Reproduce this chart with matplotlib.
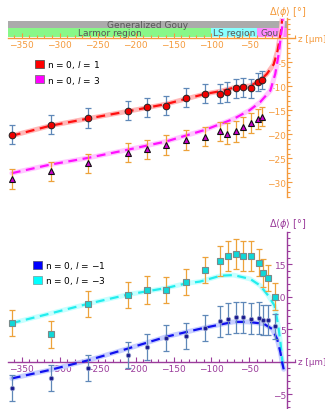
import matplotlib.pyplot as plt
import numpy as np
from matplotlib.patches import Patch
from matplotlib.ticker import FixedLocator, MultipleLocator

# measured points (z in um, phase shift in deg)
z_pts = [-363, -312, -262, -210, -185, -160, -134, -109, -89, -79, -68, -58, -48, -39, -33]
y_l1 = [-20.1, -18.0, -16.6, -15.1, -14.4, -14.0, -12.4, -11.5, -11.5, -11.2, -10.4, -10.2, -10.4, -9.1, -8.7]
e_l1 = [2.0, 2.0, 2.0, 2.0, 2.0, 2.0, 2.0, 1.9, 1.9, 2.0, 2.0, 2.0, 2.0, 1.8, 1.8]
y_l3 = [-29.3, -27.7, -26.0, -23.8, -23.1, -22.2, -21.2, -20.5, -19.4, -19.9, -19.4, -18.4, -17.7, -16.8, -16.3]
e_l3 = [2.1, 2.0, 2.0, 2.0, 2.0, 2.1, 2.0, 2.0, 2.0, 2.2, 2.2, 2.1, 2.1, 2.0, 2.0]

z_pts2 = [-363, -312, -262, -210, -185, -160, -134, -109, -89, -78, -68, -58, -48, -38, -32, -26, -17]
y_lm3 = [5.9, 4.2, 8.9, 10.3, 11.0, 11.0, 12.2, 14.1, 15.5, 16.3, 16.5, 16.2, 16.2, 15.2, 13.6, 12.8, 10.0]
e_lm3 = [2.0, 2.1, 2.0, 2.0, 2.1, 2.0, 2.0, 2.0, 2.3, 2.3, 2.3, 2.3, 2.3, 2.1, 2.1, 2.0, 2.1]
y_lm1 = [-4.0, -2.5, -1.0, 1.0, 2.3, 3.6, 4.0, 5.1, 6.2, 6.6, 6.8, 6.8, 6.6, 6.7, 6.4, 6.4, 5.4]
e_lm1 = [2.0, 2.0, 2.0, 2.0, 2.0, 2.0, 2.0, 2.0, 2.4, 2.4, 2.4, 2.4, 2.4, 2.4, 2.3, 2.3, 1.9]

# fitted curves
zf_l1 = [-363, -312, -262, -210, -160, -109, -88, -71, -49, -36, -27, -18, -13, -9.2, -7.9, -7]
yf_l1 = [-20.3, -18.2, -16.7, -15.2, -13.7, -11.6, -11.0, -10.3, -9.9, -8.8, -7.4, -5.4, -2.6, 0.9, 2.3, 4.0]
zf_l3 = [-363, -312, -262, -210, -160, -109, -71, -50, -36, -22.5, -16, -11.5, -8.3, -7, -6.3]
yf_l3 = [-28.1, -26.3, -24.9, -23.2, -21.5, -19.1, -16.8, -15.0, -13.3, -10.9, -7.4, -3.3, 0.9, 2.3, 4.0]
zf_lm3 = [-363, -312, -262, -210, -160, -134, -115, -88, -71, -49, -36, -25, -17, -13.6, -11.5, -9.2, -7, -5.7]
yf_lm3 = [5.9, 7.4, 8.9, 10.3, 11.3, 12.0, 12.3, 13.2, 13.3, 12.7, 11.7, 10.1, 8.6, 6.5, 5.0, 3.0, 0.4, -1.0]
zf_lm1 = [-363, -313, -262, -210, -160, -109, -71, -52, -31, -20, -13.6, -9.2, -7, -4.9]
yf_lm1 = [-2.6, -1.3, 0.2, 2.0, 3.8, 5.2, 6.1, 6.1, 5.8, 5.0, 3.5, 1.4, -0.1, -1.2]

regions = ['Larmor region', 'LS region', 'Gouy']
region_edges = [-100, -40, 0]

XMIN, XMAX = -368, 10
orange = '#F59A3C'
purple = '#9B3C9B'
bar_blue = '#5F88B8'
bar_orange = '#EDA23A'

fig = plt.figure(figsize=(3.25, 4.10), dpi=100)
W, H = 325, 410
ax1 = fig.add_axes([8 / W, (H - 197.7) / H, 287 / W, 178.5 / H])
ax2 = fig.add_axes([8 / W, 0, 287 / W, 177.5 / H])


def style_axes(ax, col, ylim, ymajor):
    ax.set_xlim(XMIN, XMAX)
    ax.set_ylim(*ylim)
    for s in ['top', 'right']:
        ax.spines[s].set_visible(False)
    ax.spines['left'].set_position(('data', 0))
    ax.spines['bottom'].set_position(('data', 0))
    for s in ['left', 'bottom']:
        ax.spines[s].set_color(col)
        ax.spines[s].set_linewidth(1.0)
    ax.xaxis.set_major_locator(FixedLocator([-350, -300, -250, -200, -150, -100, -50]))
    ax.xaxis.set_minor_locator(MultipleLocator(10))
    ax.yaxis.set_major_locator(FixedLocator(ymajor))
    ax.yaxis.set_minor_locator(MultipleLocator(1))
    ax.tick_params(which='both', direction='in', colors=col, labelsize=6.5, width=0.8)
    ax.tick_params(which='major', length=3.5)
    ax.tick_params(which='minor', length=2)
    ax.tick_params(axis='y', pad=1)
    ax.tick_params(axis='x', pad=1.5)
    ax.patch.set_visible(False)
    ax.text(1.01, 0, 'z [μm]', transform=ax.get_yaxis_transform(),
            color=col, fontsize=6.3, ha='left', va='center')


def fit_line(ax, zf, yf, col, halo):
    ax.plot(zf, yf, color=halo, lw=3.5, solid_capstyle='round', zorder=2)
    ax.plot(zf, yf, color=col, lw=1.6, dashes=(4, 2.5), zorder=3)


style_axes(ax1, orange, (-33, 4.2), [-30, -25, -20, -15, -10, -5])
style_axes(ax2, purple, (-7.3, 20), [-5, 5, 10, 15])

ax1.text(0, 1.04, r'$\Delta\langle\phi\rangle$ [°]', transform=ax1.get_xaxis_transform(),
         color=orange, fontsize=7, ha='center', va='center')
ax2.text(0, 1.048, r'$\Delta\langle\phi\rangle$ [°]', transform=ax2.get_xaxis_transform(),
         color=purple, fontsize=7, ha='center', va='center')

# region bands
ax1.fill_between([XMIN, 0], 2.1, 3.6, color='#ABABAB', lw=0, zorder=1)
ax1.text((XMIN + 0) / 2, 2.85, 'Generalized Gouy', color='#555555', fontsize=6.5,
         ha='center', va='center', zorder=1.5)
band_cols = ['#88F888', '#88FFFF', '#FF88FF']
lefts = [XMIN] + region_edges[:-1]
for name, x0, x1, c in zip(regions, lefts, region_edges, band_cols):
    ax1.fill_between([x0, x1], 0.35, 2.1, color=c, lw=0, zorder=1)
    ax1.text((x0 + x1) / 2, 1.2, name, color='#555555', fontsize=6.5,
             ha='center', va='center', zorder=1.5)

# top panel
fit_line(ax1, zf_l1, yf_l1, '#FF1010', '#FFB8B8')
fit_line(ax1, zf_l3, yf_l3, '#FF10FF', '#FFC8FF')
ax1.errorbar(z_pts, y_l1, yerr=e_l1, fmt='none', ecolor=bar_blue, elinewidth=0.9,
             capsize=2.4, capthick=0.9, zorder=4)
ax1.errorbar(z_pts, y_l3, yerr=e_l3, fmt='none', ecolor=bar_orange, elinewidth=0.9,
             capsize=2.4, capthick=0.9, zorder=4)
ax1.plot(z_pts, y_l1, 'o', color='#EE0000', mec='#222222', mew=0.7, ms=4.8, zorder=5)
ax1.plot(z_pts, y_l3, '^', color='#CC00CC', mec='#111111', mew=0.8, ms=4.8, zorder=5)

h1 = [Patch(facecolor='#FF0000', edgecolor='#555555', lw=0.6),
      Patch(facecolor='#FF00FF', edgecolor='#777777', lw=0.6)]
ax1.legend(h1, [r'n = 0, $l$ = 1', r'n = 0, $l$ = 3'], loc='upper left',
           bbox_to_anchor=(0.095, 0.775), frameon=False, fontsize=6.5,
           handlelength=1.0, handleheight=1.0, handletextpad=0.3,
           labelspacing=0.35, borderpad=0, borderaxespad=0)

# bottom panel
fit_line(ax2, zf_lm3, yf_lm3, '#22EEEE', '#C8FFFF')
fit_line(ax2, zf_lm1, yf_lm1, '#1010EE', '#C8D0FF')
ax2.errorbar(z_pts2, y_lm3, yerr=e_lm3, fmt='none', ecolor=bar_orange, elinewidth=0.9,
             capsize=2.4, capthick=0.9, zorder=4)
ax2.errorbar(z_pts2, y_lm1, yerr=e_lm1, fmt='none', ecolor=bar_blue, elinewidth=0.9,
             capsize=2.4, capthick=0.9, zorder=4)
ax2.plot(z_pts2, y_lm3, 's', color='#10D8D8', mec='#7A8A8A', mew=0.8, ms=4.8, zorder=5)
ax2.plot(z_pts2, y_lm1, 'o', color='#1A1A90', mec='#9098C8', mew=0.6, ms=3.2, zorder=5)

h2 = [Patch(facecolor='#0000FF', edgecolor='#555588', lw=0.6),
      Patch(facecolor='#00FFFF', edgecolor='#77AAAA', lw=0.6)]
ax2.legend(h2, [r'n = 0, $l$ = −1', r'n = 0, $l$ = −3'], loc='upper left',
           bbox_to_anchor=(0.088, 0.845), frameon=False, fontsize=6.5,
           handlelength=1.0, handleheight=1.0, handletextpad=0.3,
           labelspacing=0.35, borderpad=0, borderaxespad=0)

fig.savefig('out.png', dpi=100)
